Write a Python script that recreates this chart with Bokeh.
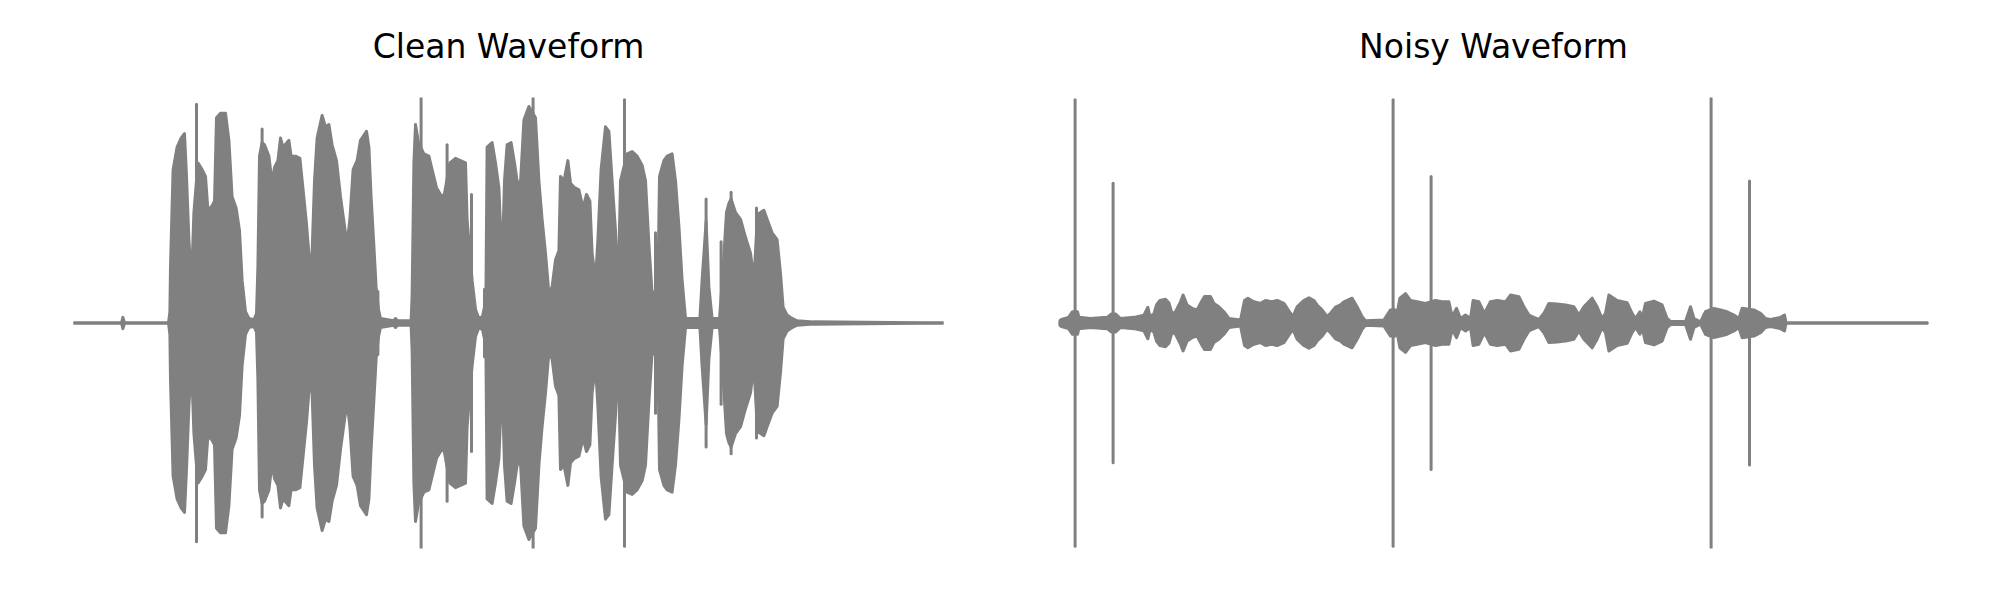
from bokeh.plotting import figure
from bokeh.layouts import row
from bokeh.models import Range1d, ColumnDataSource, Title
from bokeh.embed import file_html
from bokeh.resources import INLINE

# ---------------- data (time in ms, amplitude normalised to +-1) ----------------
titles = ["Clean Waveform", "Noisy Waveform"]

clean_t = [0, 240, 247, 255, 475, 482, 485, 498, 518, 538, 555, 565, 577, 590, 602, 622, 643, 660, 672, 693,
           705, 715, 735, 760, 777, 793, 813, 830, 843, 860, 877, 902, 915, 922, 930, 943, 955, 977, 993, 1005,
           1022, 1035, 1048, 1077, 1088, 1110, 1132, 1148, 1165, 1182, 1193, 1205, 1218, 1243, 1260, 1277, 1293,
           1315, 1335, 1355, 1368, 1382, 1398, 1418, 1435, 1465, 1477, 1488, 1502, 1513, 1525, 1535, 1600, 1610,
           1620, 1688, 1693, 1702, 1710, 1725, 1752, 1777, 1793, 1815, 1835, 1852, 1882, 1910, 1935, 1960, 1968,
           1993, 2010, 2027, 2045, 2062, 2068, 2093, 2110, 2127, 2143, 2155, 2168, 2188, 2205, 2218, 2235, 2252,
           2277, 2310, 2327, 2343, 2360, 2377, 2393, 2410, 2427, 2435, 2452, 2472, 2485, 2505, 2527, 2548, 2565,
           2582, 2593, 2610, 2622, 2638, 2660, 2677, 2693, 2710, 2723, 2735, 2768, 2793, 2818, 2843, 2860, 2877,
           2893, 2922, 2930, 2952, 2968, 2993, 3010, 3027, 3043, 3060, 3132, 3143, 3163, 3177, 3193, 3230, 3245,
           3265, 3277, 3288, 3310, 3335, 3360, 3385, 3402, 3420, 3435, 3452, 3468, 3493, 3518, 3535, 3548, 3568,
           3593, 3618, 3700, 4350]
clean_env = [0, 0, 0.025, 0, 0, 0.05, 0.25, 0.68, 0.78, 0.82, 0.84, 0.65, 0.37, 0.18, 0.49, 0.71, 0.68, 0.65, 0.50, 0.52,
             0.54, 0.91, 0.93, 0.93, 0.81, 0.56, 0.51, 0.41, 0.19, 0.05, 0.02, 0.015, 0.04, 0.25, 0.74, 0.80, 0.79, 0.74, 0.62, 0.69,
             0.72, 0.82, 0.78, 0.81, 0.74, 0.74, 0.73, 0.59, 0.44, 0.25, 0.31, 0.63, 0.82, 0.92, 0.87, 0.88, 0.79,
             0.72, 0.56, 0.43, 0.35, 0.46, 0.68, 0.72, 0.81, 0.85, 0.78, 0.56, 0.34, 0.16, 0.06, 0.02, 0.01, 0.02,
             0.01, 0.01, 0.12, 0.71, 0.88, 0.80, 0.75, 0.74, 0.68, 0.60, 0.57, 0.56, 0.71, 0.73, 0.72, 0.71, 0.46,
             0.19, 0.06, 0.02, 0.03, 0.10, 0.78, 0.80, 0.71, 0.60, 0.25, 0.63, 0.79, 0.80, 0.71, 0.63, 0.62, 0.90,
             0.96, 0.91, 0.63, 0.46, 0.31, 0.13, 0.16, 0.28, 0.32, 0.65, 0.63, 0.72, 0.62, 0.60, 0.59, 0.51, 0.57,
             0.54, 0.31, 0.19, 0.37, 0.68, 0.87, 0.85, 0.63, 0.41, 0.13, 0.63, 0.75, 0.76, 0.74, 0.70, 0.63, 0.35,
             0.13, 0.15, 0.65, 0.72, 0.74, 0.75, 0.63, 0.43, 0.19, 0.02, 0.02, 0.19, 0.45, 0.16, 0.02, 0.02, 0.20,
             0.49, 0.53, 0.55, 0.49, 0.46, 0.38, 0.31, 0.19, 0.48, 0.49, 0.50, 0.46, 0.40, 0.37, 0.22, 0.07, 0.035,
             0.02, 0.01, 0.005, 0]
clean_spike_t = [615, 943, 1522, 1738, 1868, 1990, 2055, 2298, 2755, 2910, 3163, 3238, 3288, 3415]
clean_spike_amp = [0.97, 0.86, 0.14, 1.0, 0.79, 0.57, 0.15, 1.0, 0.99, 0.40, 0.55, 0.36, 0.58, 0.51]

noisy_t = [0, 15, 50, 70, 95, 102, 160, 243, 265, 285, 310, 377, 427, 447, 457, 477, 490, 507, 535, 552,
           568, 585, 610, 623, 643, 668, 693, 718, 730, 760, 777, 802, 827, 852, 910, 930, 947, 977, 1010, 1035,
           1068, 1093, 1127, 1160, 1173, 1193, 1227, 1252, 1277, 1293, 1318, 1343, 1360, 1385, 1410, 1427, 1468,
           1493, 1518, 1535, 1627, 1643, 1660, 1680, 1693, 1707, 1735, 1760, 1793, 1835, 1885, 1918, 1952, 1968,
           1990, 2010, 2035, 2060, 2073, 2102, 2130, 2160, 2193, 2235, 2260, 2302, 2327, 2352, 2377, 2402, 2427,
           2452, 2493, 2535, 2577, 2602, 2627, 2668, 2693, 2718, 2735, 2752, 2793, 2843, 2868, 2885, 2907, 2918,
           2935, 2977, 3018, 3043, 3060, 3135, 3160, 3177, 3210, 3235, 3277, 3310, 3343, 3377, 3402, 3418, 3477,
           3510, 3535, 3560, 3610, 3630, 3638, 4345]
noisy_env = [0.005, 0.016, 0.025, 0.05, 0.05, 0.025, 0.02, 0.025, 0.04, 0.04, 0.02, 0.025, 0.035, 0.07, 0.03, 0.04, 0.08, 0.10, 0.105, 0.09,
             0.04, 0.05, 0.094, 0.124, 0.08, 0.065, 0.058, 0.10, 0.117, 0.117, 0.087, 0.072, 0.05, 0.02, 0.013, 0.10, 0.11, 0.094, 0.087, 0.10,
             0.094, 0.10, 0.087, 0.043, 0.03, 0.072, 0.10, 0.112, 0.10, 0.08, 0.058, 0.028, 0.043, 0.07, 0.08, 0.094, 0.11,
             0.072, 0.028, 0.01, 0.013, 0.035, 0.058, 0.06, 0.043, 0.11, 0.13, 0.10, 0.094, 0.087, 0.10, 0.094, 0.094, 0.028,
             0.065, 0.02, 0.035, 0.02, 0.10, 0.094, 0.043, 0.094, 0.10, 0.094, 0.124, 0.117, 0.072, 0.035, 0.025, 0.016, 0.043,
             0.087, 0.084, 0.08, 0.072, 0.035, 0.072, 0.11, 0.072, 0.02, 0.043, 0.124, 0.10, 0.09, 0.043, 0.02, 0.05, 0.02,
             0.087, 0.097, 0.08, 0.02, 0.007, 0.007, 0.072, 0.02, 0.005, 0.05, 0.065, 0.058, 0.05, 0.035, 0.02, 0.065, 0.058,
             0.043, 0.02, 0.016, 0.025, 0.035, 0.0, 0]
noisy_spike_t = [83, 273, 1673, 1863, 3263, 3455]
noisy_spike_amp = [0.99, 0.62, 0.99, 0.65, 1.0, 0.63]

COLOR = "#808080"


def make_panel(title, t, env, st, samp, left, right):
    p = figure(width=left + 870 + right, height=588, output_backend="svg", toolbar_location=None,
               x_range=Range1d(0, 4350), y_range=Range1d(-1.0, 1.0),
               min_border_left=left, min_border_right=right, min_border_top=97, min_border_bottom=40,
               title=title)
    p.title.text_font = "DejaVu Sans"
    p.title.text_font_size = "33px"
    p.title.text_font_style = "normal"
    p.title.text_color = "black"
    p.title.align = "center"
    p.title.standoff = 0
    # empty spacer between title and plotting area
    p.add_layout(Title(text=" ", text_font_size="1px", standoff=29), "above")
    p.axis.visible = False
    p.grid.visible = False
    p.outline_line_color = None
    p.background_fill_color = "white"
    p.border_fill_color = "white"

    neg = [-v for v in env]
    src = ColumnDataSource(dict(t=t, up=env, lo=neg))
    p.varea(x="t", y1="lo", y2="up", source=src, fill_color=COLOR)
    p.line(x="t", y="up", source=src, line_color=COLOR, line_width=3, line_cap="round", line_join="round")
    p.line(x="t", y="lo", source=src, line_color=COLOR, line_width=3, line_cap="round", line_join="round")
    ssrc = ColumnDataSource(dict(t=st, up=samp, lo=[-v for v in samp]))
    p.segment(x0="t", y0="lo", x1="t", y1="up", source=ssrc, line_color=COLOR, line_width=3, line_cap="round")
    return p


p1 = make_panel(titles[0], clean_t, clean_env, clean_spike_t, clean_spike_amp, 73, 65)
p2 = make_panel(titles[1], noisy_t, noisy_env, noisy_spike_t, noisy_spike_amp, 50, 56)
layout = row(p1, p2)

open("out.html", "w").write(file_html(layout, INLINE))
